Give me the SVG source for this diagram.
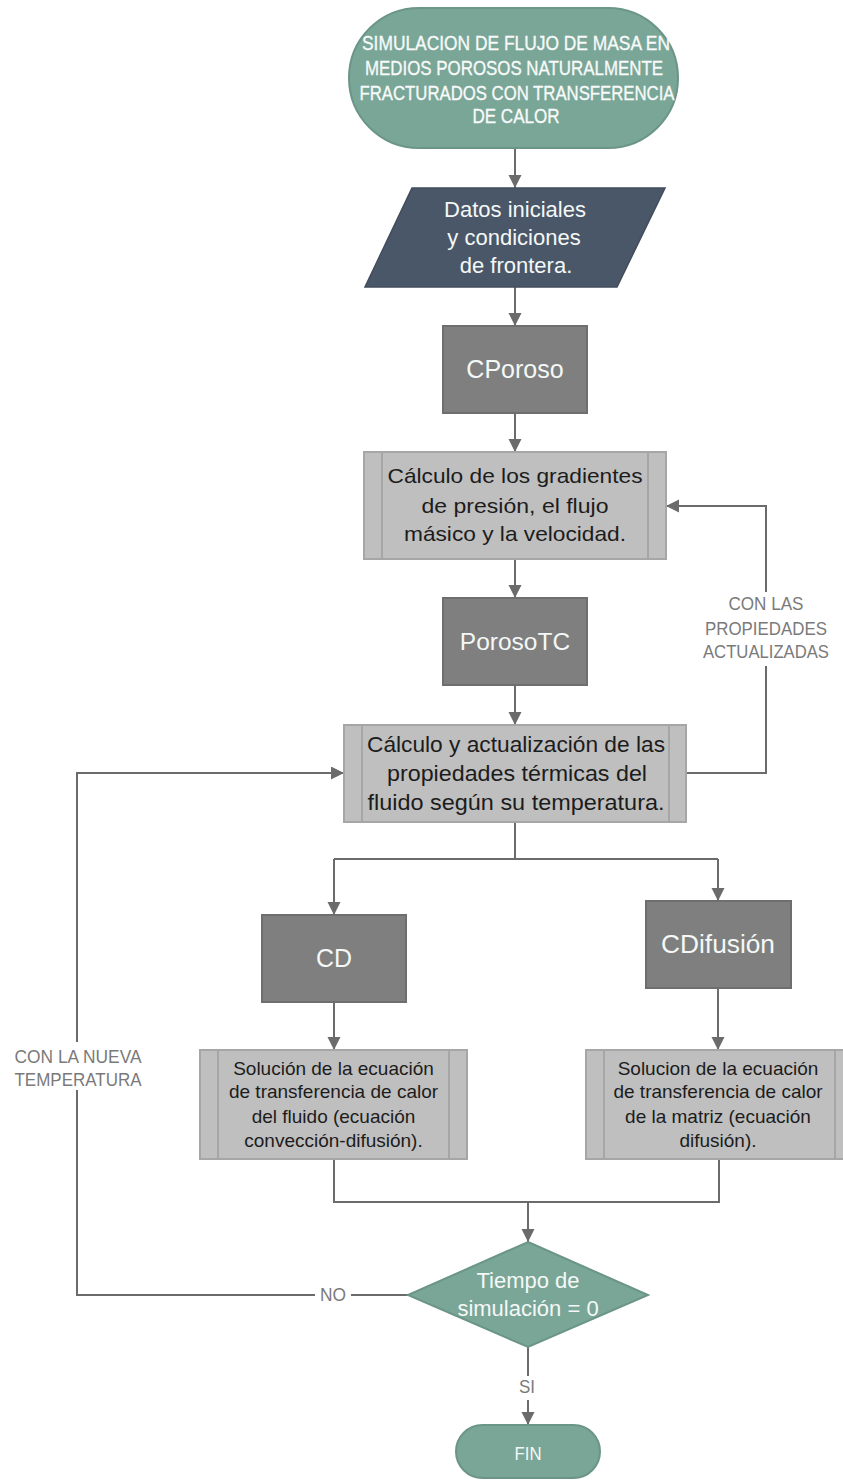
<svg xmlns="http://www.w3.org/2000/svg" width="843" height="1480" viewBox="0 0 843 1480">
<defs>
<style>
text{font-family:"Liberation Sans",Arial,sans-serif;text-anchor:middle}
.teal{fill:#7aa698;stroke:#6b9586;stroke-width:2}
.para{fill:#4a5768;stroke:#414c5c;stroke-width:1.5}
.dark{fill:#7f7f7f;stroke:#6e6e6e;stroke-width:2}
.proc{fill:#bfbfbf;stroke:#a6a6a6;stroke-width:2}
.inner{stroke:#a6a6a6;stroke-width:2;fill:none}
.wt{fill:#f4f8f6}
.ttl{fill:#f7faf8;font-size:21px;stroke:#f7faf8;stroke-width:0.35}
.bt{fill:#1c1c1c}
.lbl{fill:#7a7a7a;font-size:19px}
.conn{fill:none;stroke:#6b6b6b;stroke-width:2}
</style>
<marker id="ah" markerUnits="userSpaceOnUse" markerWidth="14" markerHeight="14" refX="13" refY="6.5" orient="auto">
<path d="M0,0 L13,6.5 L0,13 z" fill="#6b6b6b"/>
</marker>
</defs>
<rect width="843" height="1480" fill="#ffffff"/>

<g id="connectors">
<path class="conn" d="M515,148 V188" marker-end="url(#ah)"/>
<path class="conn" d="M515,287 V326" marker-end="url(#ah)"/>
<path class="conn" d="M515,413 V452" marker-end="url(#ah)"/>
<path class="conn" d="M515,559 V598" marker-end="url(#ah)"/>
<path class="conn" d="M515,685 V725" marker-end="url(#ah)"/>
<path class="conn" d="M686,773 H766 V666"/>
<path class="conn" d="M766,592 V506 H666" marker-end="url(#ah)"/>
<path class="conn" d="M515,822 V859 M334,859 H718"/>
<path class="conn" d="M334,859 V915" marker-end="url(#ah)"/>
<path class="conn" d="M718,859 V901" marker-end="url(#ah)"/>
<path class="conn" d="M334,1002 V1050" marker-end="url(#ah)"/>
<path class="conn" d="M718,988 V1050" marker-end="url(#ah)"/>
<path class="conn" d="M334,1159 V1202 H719 V1159"/>
<path class="conn" d="M528,1202 V1242" marker-end="url(#ah)"/>
<path class="conn" d="M408,1295 H351"/>
<path class="conn" d="M315,1295 H77 V1090"/>
<path class="conn" d="M77,1042 V773 H344" marker-end="url(#ah)"/>
<path class="conn" d="M528,1347 V1376"/>
<path class="conn" d="M528,1400 V1425" marker-end="url(#ah)"/>
<text class="lbl" x="766" y="610" textLength="75" lengthAdjust="spacingAndGlyphs">CON LAS</text>
<text class="lbl" x="766" y="635" textLength="122" lengthAdjust="spacingAndGlyphs">PROPIEDADES</text>
<text class="lbl" x="766" y="658" textLength="126" lengthAdjust="spacingAndGlyphs">ACTUALIZADAS</text>
<text class="lbl" x="78" y="1063" textLength="127" lengthAdjust="spacingAndGlyphs">CON LA NUEVA</text>
<text class="lbl" x="78" y="1086" textLength="127" lengthAdjust="spacingAndGlyphs">TEMPERATURA</text>
<text class="lbl" x="333" y="1301" textLength="26" lengthAdjust="spacingAndGlyphs">NO</text>
<text class="lbl" x="527" y="1393" textLength="16" lengthAdjust="spacingAndGlyphs">SI</text>
</g>

<g id="inicio">
<rect class="teal" x="349" y="8" width="329" height="140" rx="70" ry="70"/>
<text class="ttl" x="516" y="50" textLength="308" lengthAdjust="spacingAndGlyphs">SIMULACION DE FLUJO DE MASA EN</text>
<text class="ttl" x="514" y="75" textLength="298" lengthAdjust="spacingAndGlyphs">MEDIOS POROSOS NATURALMENTE</text>
<text class="ttl" x="517" y="100" textLength="315" lengthAdjust="spacingAndGlyphs">FRACTURADOS CON TRANSFERENCIA</text>
<text class="ttl" x="516" y="123" textLength="87" lengthAdjust="spacingAndGlyphs">DE CALOR</text>
</g>

<g id="datos">
<polygon class="para" points="412,188 665,188 617,287 365,287"/>
<text class="wt" x="515" y="217" font-size="22">Datos iniciales</text>
<text class="wt" x="514" y="245" font-size="22">y condiciones</text>
<text class="wt" x="516" y="273" font-size="22">de frontera.</text>
</g>

<g id="cporoso">
<rect class="dark" x="443" y="326" width="144" height="87"/>
<text class="wt" x="515" y="378" font-size="25">CPoroso</text>
</g>

<g id="gradientes">
<rect class="proc" x="364" y="452" width="302" height="107"/>
<path class="inner" d="M382,452 V559 M648,452 V559"/>
<text class="bt" x="515" y="483" font-size="21" textLength="255" lengthAdjust="spacingAndGlyphs">Cálculo de los gradientes</text>
<text class="bt" x="515" y="513" font-size="21" textLength="187" lengthAdjust="spacingAndGlyphs">de presión, el flujo</text>
<text class="bt" x="515" y="541" font-size="21" textLength="222" lengthAdjust="spacingAndGlyphs">másico y la velocidad.</text>
</g>

<g id="porosotc">
<rect class="dark" x="443" y="598" width="144" height="87"/>
<text class="wt" x="515" y="650" font-size="24.5">PorosoTC</text>
</g>

<g id="propiedades">
<rect class="proc" x="344" y="725" width="342" height="97"/>
<path class="inner" d="M362,725 V822 M669,725 V822"/>
<text class="bt" x="516" y="752" font-size="22" textLength="298" lengthAdjust="spacingAndGlyphs">Cálculo y actualización de las</text>
<text class="bt" x="517" y="781" font-size="22" textLength="260" lengthAdjust="spacingAndGlyphs">propiedades térmicas del</text>
<text class="bt" x="516" y="810" font-size="22" textLength="297" lengthAdjust="spacingAndGlyphs">fluido según su temperatura.</text>
</g>

<g id="cd">
<rect class="dark" x="262" y="915" width="144" height="87"/>
<text class="wt" x="334" y="967" font-size="25" textLength="36" lengthAdjust="spacingAndGlyphs">CD</text>
</g>

<g id="cdifusion">
<rect class="dark" x="646" y="901" width="145" height="87"/>
<text class="wt" x="718" y="953" font-size="25" textLength="114" lengthAdjust="spacingAndGlyphs">CDifusión</text>
</g>

<g id="sol-fluido">
<rect class="proc" x="200" y="1050" width="267" height="109"/>
<path class="inner" d="M218,1050 V1159 M449,1050 V1159"/>
<text class="bt" x="333.5" y="1075" font-size="19">Solución de la ecuación</text>
<text class="bt" x="333.5" y="1098" font-size="19">de transferencia de calor</text>
<text class="bt" x="333.5" y="1123" font-size="19">del fluido (ecuación</text>
<text class="bt" x="333.5" y="1147" font-size="19">convección-difusión).</text>
</g>

<g id="sol-matriz">
<rect class="proc" x="586" y="1050" width="267" height="109"/>
<path class="inner" d="M604,1050 V1159 M835,1050 V1159"/>
<text class="bt" x="718" y="1075" font-size="19">Solucion de la ecuación</text>
<text class="bt" x="718" y="1098" font-size="19">de transferencia de calor</text>
<text class="bt" x="718" y="1123" font-size="19">de la matriz (ecuación</text>
<text class="bt" x="718" y="1147" font-size="19">difusión).</text>
</g>

<g id="decision">
<polygon class="teal" points="528,1242 648,1295 528,1347 408,1295"/>
<text class="wt" x="528" y="1288" font-size="22">Tiempo de</text>
<text class="wt" x="528" y="1316" font-size="22">simulación = 0</text>
</g>

<g id="fin">
<rect class="teal" x="456" y="1425" width="144" height="53" rx="26.5" ry="26.5"/>
<text class="wt" x="528" y="1460" font-size="19" textLength="27" lengthAdjust="spacingAndGlyphs">FIN</text>
</g>
</svg>
